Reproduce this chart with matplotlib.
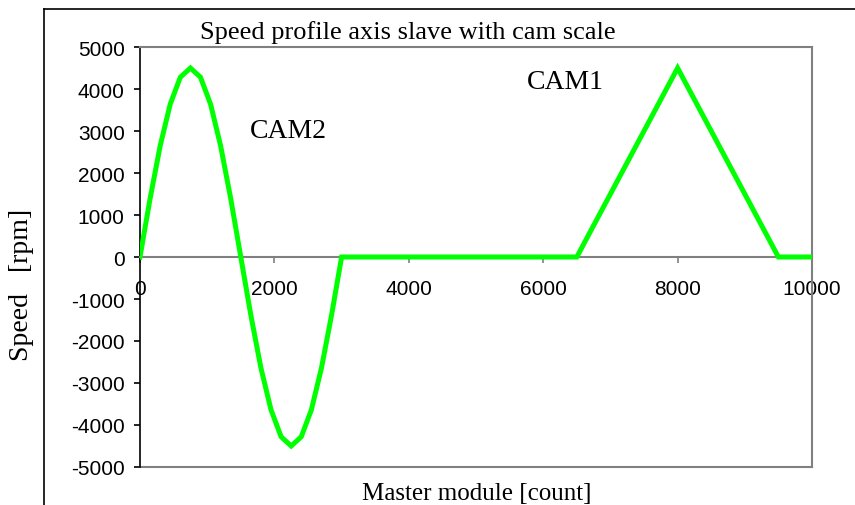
import matplotlib
matplotlib.use("Agg")
import matplotlib.pyplot as plt
from matplotlib.lines import Line2D

# cam profile: master position [count] -> slave speed [rpm]
master_pos = [0, 150, 300, 450, 600, 750, 900, 1050, 1200, 1350, 1500,
              1650, 1800, 1950, 2100, 2250, 2400, 2550, 2700, 2850, 3000,
              6500, 8000, 9500, 10000]
speed = [0, 1390, 2645, 3640, 4280, 4500, 4280, 3640, 2645, 1390, 0,
         -1390, -2645, -3640, -4280, -4500, -4280, -3640, -2645, -1390, 0,
         0, 4500, 0, 0]

x_ticks = [0, 2000, 4000, 6000, 8000, 10000]
y_ticks = [-5000, -4000, -3000, -2000, -1000, 0, 1000, 2000, 3000, 4000, 5000]

plt.rcParams["axes.unicode_minus"] = False
serif = "Liberation Serif"
sans = "Liberation Sans"
grey = "#808080"

W, H = 855, 506
fig = plt.figure(figsize=(W / 100, H / 100), dpi=100)
ax = fig.add_axes([140 / W, (H - 468) / H, 672 / W, 420 / H])

ax.plot(master_pos, speed, color="#00ff00", lw=3.6, solid_joinstyle="miter", zorder=3)

ax.set_xlim(0, 10000)
ax.set_ylim(-5000, 5000)
ax.set_xticks(x_ticks)
ax.set_yticks(y_ticks)

# x axis drawn through zero, frame bottom drawn separately
ax.spines["bottom"].set_position(("data", 0))
ax.spines["bottom"].set_color(grey)
ax.spines["bottom"].set_linewidth(1.5)
for s in ["top", "right"]:
    ax.spines[s].set_color(grey)
    ax.spines[s].set_linewidth(1.5)
ax.spines["left"].set_color("black")
ax.spines["left"].set_linewidth(1.2)
ax.axhline(-5000, color=grey, lw=1.5, clip_on=False)

ax.tick_params(axis="x", direction="out", length=4, width=1.2, color=grey,
               pad=12, labelsize=15)
ax.tick_params(axis="y", direction="out", length=4, width=1.2, color="black",
               pad=7, labelsize=15)
for lab in ax.get_xticklabels() + ax.get_yticklabels():
    lab.set_fontfamily(sans)

fig.text(408 / W, 1 - 33 / H, "Speed profile axis slave with cam scale",
         fontfamily=serif, fontsize=19, ha="center", va="center")
fig.text(477 / W, 1 - 494 / H, "Master module [count]",
         fontfamily=serif, fontsize=18, ha="center", va="center")
fig.text(22 / W, 1 - 285 / H, "Speed   [rpm]", rotation=90,
         fontfamily=serif, fontsize=20, ha="center", va="center")

ax.text(1640, 3000, "CAM2", fontfamily=serif, fontsize=20, ha="left", va="center")
ax.text(5760, 4170, "CAM1", fontfamily=serif, fontsize=20, ha="left", va="center")

# outer chart border (left and top edges)
fig.add_artist(Line2D([44 / W, 44 / W], [0, 1 - 10 / H], color="black", lw=1.2))
fig.add_artist(Line2D([44 / W, 1], [1 - 10 / H, 1 - 10 / H], color="black", lw=1.2))

fig.savefig("out.png", dpi=100)
